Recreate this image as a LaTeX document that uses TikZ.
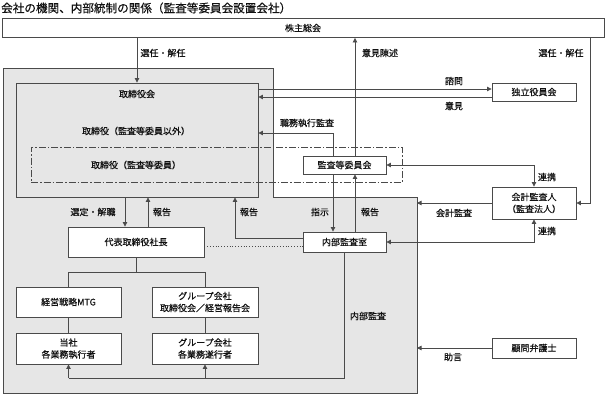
\documentclass[tikz,border=0pt]{standalone}
\usepackage{fontspec}
\setmainfont{Noto Sans CJK JP}[FakeBold=0.5]
\usetikzlibrary{arrows.meta}
\definecolor{lnc}{HTML}{4A4A4A}
\definecolor{regfill}{HTML}{E6E6E6}
\definecolor{txc}{HTML}{111111}
\tikzset{
  box/.style={draw=lnc, line width=0.9pt, fill=white, inner sep=0pt, align=center, text=txc, font=\fontsize{9}{12}\selectfont},
  lbl/.style={inner sep=0pt, text=txc, font=\fontsize{9}{12}\selectfont},
  ln/.style={draw=lnc, line width=0.8pt},
  arr/.style={ln, -{Triangle[length=4.5pt,width=4.5pt]}},
  arrboth/.style={ln, {Triangle[length=4.5pt,width=4.5pt]}-{Triangle[length=4.5pt,width=4.5pt]}},
}
\begin{document}
\begin{tikzpicture}[x=1pt,y=1pt]
\useasboundingbox (0,0) rectangle (606,-394);
% title
\node[lbl, anchor=west, font=\fontsize{11.6}{13}\selectfont] (title) at (1,-8) {会社の機関、内部統制の関係（監査等委員会設置会社）};
% gray region
\fill[regfill] (3,-68) -- (273,-68) -- (273,-197) -- (417,-197) -- (417,-393) -- (3,-393) -- cycle;
\draw[ln] (3,-68) -- (273,-68) -- (273,-197) -- (417,-197) -- (417,-393) -- (3,-393) -- cycle;
\coordinate (regE) at (417,-300);
\coordinate (rcol) at (590,0);
% shareholders
\node[box, minimum width=602pt, minimum height=19pt] (kabu) at (303,-28) {株主総会};
% board
\node[draw=lnc, line width=0.9pt, minimum width=242pt, minimum height=114pt, inner sep=0pt] (board) at (137,-140) {};
\node[lbl] (boardt) at (137,-94) {取締役会};
\node[lbl] (boardo) at (136,-131) {取締役（監査等委員以外）};
% dash-dot box
\node[draw=lnc, line width=0.9pt, dash pattern=on 7pt off 2pt on 1.5pt off 2pt, minimum width=371pt, minimum height=35pt, inner sep=0pt] (dashb) at (216.5,-164.5) {};
\node[lbl] (dasht) at (136,-165) {取締役（監査等委員）};
% committee and internal audit
\node[box, minimum width=83pt, minimum height=18pt] (iinkai) at (344.5,-165) {監査等委員会};
\node[box, minimum width=83pt, minimum height=20pt] (naibu) at (344.5,-242) {内部監査室};
% president and tree
\node[box, minimum width=136pt, minimum height=30pt] (daihyo) at (136,-242) {代表取締役社長};
\node[box, minimum width=105pt, minimum height=30pt] (mtg) at (68.5,-302) {経営戦略MTG};
\node[box, minimum width=106pt, minimum height=30pt] (group1) at (205,-302) {グループ会社\\取締役会／経営報告会};
\node[box, minimum width=105pt, minimum height=31pt] (tosha) at (68.5,-348.5) {当社\\各業務執行者};
\node[box, minimum width=106pt, minimum height=31pt] (group2) at (205,-348.5) {グループ会社\\各業務遂行者};
% right boxes
\node[box, minimum width=84pt, minimum height=18pt] (dokuritsu) at (534,-92) {独立役員会};
\node[box, minimum width=84pt, minimum height=32pt] (kaikei) at (534,-203) {会計監査人\\（監査法人）};
\node[box, minimum width=84pt, minimum height=20pt] (komon) at (534,-348) {顧問弁護士};
% connectors
\draw[arr] (kabu.south -| board.north) -- (board.north);
\node[lbl] (l1) at (163,-53) {選任・解任};
\draw[arr] ([xshift=10.5pt]iinkai.north) -- ([xshift=10.5pt]iinkai.north |- kabu.south);
\node[lbl] (l2) at (380,-53) {意見陳述};
\draw[arr] (kabu.south -| rcol) |- (kaikei.east);
\node[lbl] (l3) at (561,-53) {選任・解任};
\draw[arr] ([yshift=3pt]dokuritsu.west -| board.east) -- ([yshift=3pt]dokuritsu.west);
\node[lbl] (l4) at (454,-81) {諮問};
\draw[arr] ([yshift=-5pt]dokuritsu.west) -- ([yshift=-5pt]dokuritsu.west -| board.east);
\node[lbl] (l5) at (454,-106) {意見};
\draw[arr] ([xshift=-11.5pt]iinkai.north) |- ([yshift=7pt]board.east);
\node[lbl] (l6) at (307,-123) {職務執行監査};
\draw[arrboth] (iinkai.east) -| (kaikei.north);
\node[lbl] (l7) at (547,-177) {連携};
\draw[arr] ([xshift=-11.5pt]iinkai.south) -- ([xshift=-11.5pt]naibu.north);
\node[lbl] (l8) at (320,-212) {指示};
\draw[arr] ([xshift=10.5pt]naibu.north) -- ([xshift=10.5pt]iinkai.south);
\node[lbl] (l9) at (370,-212) {報告};
\draw[arr] ([yshift=4pt]naibu.west) -| ([xshift=98pt]board.south);
\node[lbl] (l10) at (249,-212) {報告};
\draw[ln, dotted] ([yshift=-4pt]daihyo.east) -- ([yshift=-4pt]naibu.west);
\draw[arr] ([xshift=-11pt]daihyo.north |- board.south) -- ([xshift=-11pt]daihyo.north);
\node[lbl] (l11) at (93,-212) {選定・解職};
\draw[arr] ([xshift=12pt]daihyo.north) -- ([xshift=12pt]daihyo.north |- board.south);
\node[lbl] (l12) at (162,-212) {報告};
\draw[ln] (daihyo.south) -- ++(0,-15) -| (mtg.north);
\draw[ln] (daihyo.south) ++(0,-15) -| (group1.north);
\draw[ln] (mtg.south) -- (tosha.north);
\draw[ln] (group1.south) -- (group2.north);
\draw[ln] (naibu.south) |- ([yshift=-14pt]tosha.south);
\draw[arr] ([yshift=-14pt]tosha.south) -- (tosha.south);
\draw[arr] ([yshift=-14pt]group2.south) -- (group2.south);
\node[lbl] (l13) at (368,-316) {内部監査};
\draw[arr] (kaikei.west) -- (kaikei.west -| regE);
\node[lbl] (l14) at (454,-213) {会計監査};
\draw[arrboth] (kaikei.south) |- (naibu.east);
\node[lbl] (l15) at (547,-231) {連携};
\draw[arr] (komon.west) -- (komon.west -| regE);
\node[lbl] (l16) at (453,-357) {助言};
\end{tikzpicture}
\end{document}
